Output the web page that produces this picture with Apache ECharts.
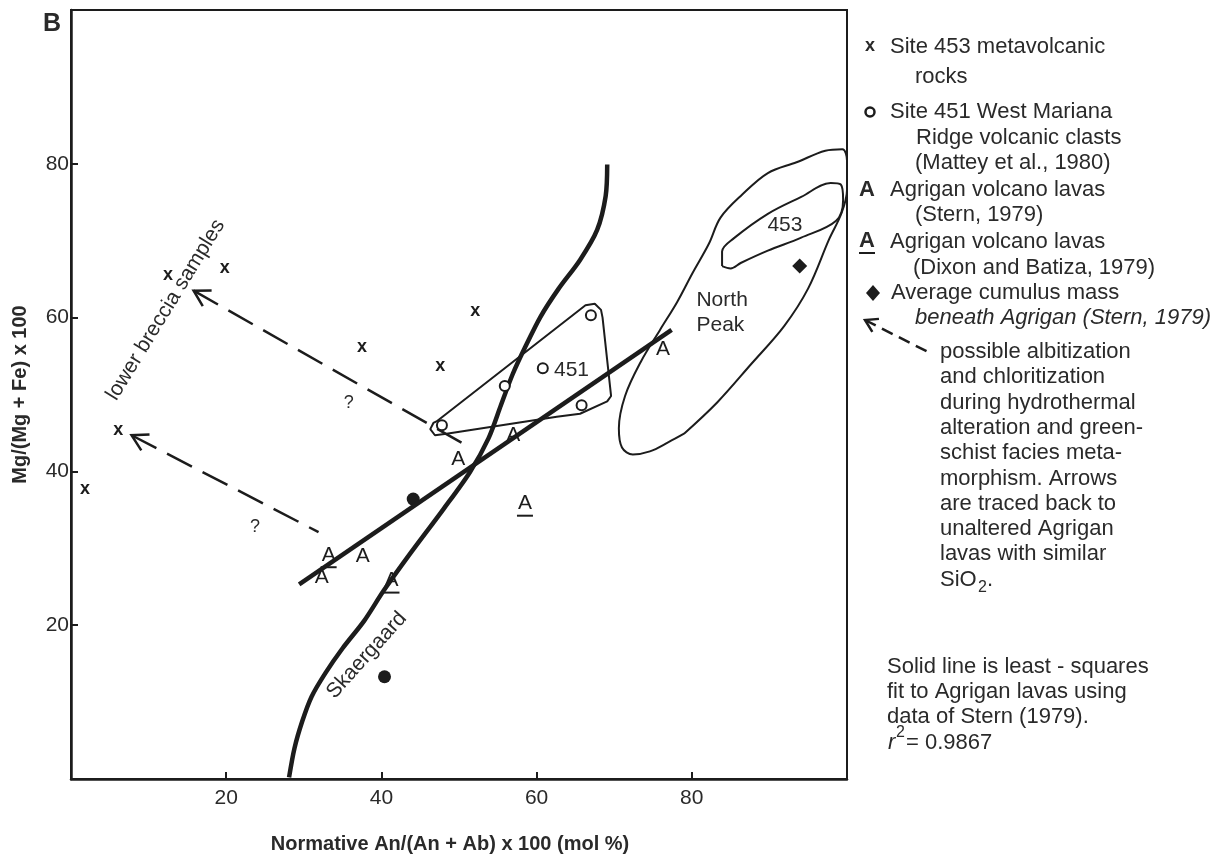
<!DOCTYPE html>
<html><head><meta charset="utf-8">
<script src="https://cdn.jsdelivr.net/npm/echarts@6/dist/echarts.min.js"></script>
<style>html,body{margin:0;padding:0;background:#fff}#c{width:1222px;height:859px}</style>
</head><body><div id="c"></div><script>
// ---- data ----
const xTicks = [20, 40, 60, 80];
const yTicks = [20, 40, 60, 80];
const site453Crosses = [[1.8,37.7],[6.1,45.4],[12.5,65.5],[19.8,66.5],[37.5,56.2],[47.6,53.7],[52.1,60.9]];
const site451Circles = [[67.0,60.3],[60.8,53.4],[55.9,51.1],[65.8,48.6],[47.8,46.0]];
const agriganStern = [[49.9,41.6],[57.0,44.7],[76.3,55.9],[37.6,29.0],[32.3,26.3]];
const agriganDixon = [[58.5,35.8],[33.2,29.1],[41.3,25.8]];
const cumulusDots = [[44.1,36.4],[40.4,13.3]];
const cumulusAverage = [[93.9,66.7]];
const fitLine = [[29.4,25.3],[77.4,58.4]];
const skaergaard = [[28.1,0.2],[28.8,4.0],[29.8,7.5],[31.0,10.7],[32.8,13.8],[35.0,17.0],[37.8,20.6],[40.3,24.5],[43.7,29.3],[48.0,35.1],[51.4,39.9],[53.8,44.3],[55.4,48.6],[56.9,52.6],[58.5,56.1],[60.5,60.1],[62.8,63.7],[65.6,67.5],[67.8,71.4],[68.9,75.8],[69.1,79.9]];
const poly451 = [[47.1,46.5],[66.3,61.6],[67.5,61.8],[68.3,61.0],[68.5,60.0],[69.6,49.8],[69.1,49.1],[65.6,47.5],[62.6,47.1],[48.4,44.9],[46.9,44.7],[46.3,45.5],[46.7,46.3],[47.1,46.5]];
const northPeak = [[79.0,44.9],[83.3,49.0],[87.6,53.9],[91.9,58.9],[95.0,63.8],[97.7,70.2],[99.3,73.6],[100,76.6],[100,80.4],[99.4,81.9],[97.2,81.7],[93.5,80.2],[89.8,78.8],[86.5,76.0],[83.7,73.0],[82.2,69.6],[80.1,65.8],[78.1,62.0],[75.9,58.4],[73.4,54.2],[71.4,49.8],[70.6,45.6],[71.0,43.1],[72.4,42.2],[74.6,42.6],[77.0,43.8],[79.0,44.9]];
const ellipse453 = [[83.9,66.7],[83.9,68.6],[85.4,70.3],[89.8,73.5],[94.1,75.7],[97.9,77.5],[99.2,77.3],[99.5,75.3],[98.6,72.6],[94.1,70.4],[89.8,68.7],[86.3,67.1],[85.0,66.4],[83.9,66.7]];
// dashed arrows: [tailX, tailY, tipX, tipY]
const alterationArrows = [[51.6,43.0,15.8,63.5],[31.9,32.1,7.8,44.7]];
// annotations inside the plot: [x, y, rotationDeg]
const annoTexts = ['451', '453', 'North\nPeak', '?', '?', 'lower breccia samples', 'Skaergaard'];
const annoPos = [[64.5,53.1,0],[92.0,72.0,0],[80.6,60.6,0],[35.8,48.9,0],[23.7,32.8,0],[12.2,61.0,58.5],[38.1,16.1,48]];

// ---- styling ----
const INK = '#1c1c1c';
const TXT = '#2a2a2a';
const FONT = "'Liberation Sans', Arial, sans-serif";

function textMarker(ch, size, weight, underline) {
  return function (params, api) {
    const p = api.coord([api.value(0), api.value(1)]);
    const kids = [{type: 'text', x: p[0], y: p[1], style: {text: ch, fill: INK, font: weight + ' ' + size + 'px ' + FONT, align: 'center', verticalAlign: 'middle'}}];
    if (underline) {
      kids.push({type: 'line', shape: {x1: p[0] - 8, y1: p[1] + 12, x2: p[0] + 8, y2: p[1] + 12}, style: {stroke: INK, lineWidth: 2}});
    }
    return {type: 'group', children: kids};
  };
}

const chart = echarts.init(document.getElementById('c'), null, {renderer: 'canvas'});
const option = {
  animation: false,
  backgroundColor: '#ffffff',
  grid: {left: 71, right: 375, top: 10, bottom: 78, show: true, borderColor: INK, borderWidth: 2, backgroundColor: 'transparent'},
  xAxis: {
    type: 'value', min: 0, max: 100, interval: 20,
    name: 'Normative An/(An + Ab) x 100 (mol %)', nameLocation: 'middle', nameGap: 55,
    nameTextStyle: {color: TXT, fontFamily: FONT, fontSize: 20, fontWeight: 'bold', padding: [0, 18, 0, 0]},
    axisLine: {lineStyle: {color: INK, width: 2.5}},
    axisTick: {inside: true, length: 7, lineStyle: {color: INK, width: 2}, customValues: xTicks},
    axisLabel: {color: TXT, fontFamily: FONT, fontSize: 21, margin: 9, customValues: xTicks},
    splitLine: {show: false}
  },
  yAxis: {
    type: 'value', min: 0, max: 100, interval: 20,
    name: 'Mg/(Mg + Fe) x 100', nameLocation: 'middle', nameGap: 41,
    nameTextStyle: {color: TXT, fontFamily: FONT, fontSize: 20, fontWeight: 'bold'},
    axisLine: {lineStyle: {color: INK, width: 2.5}},
    axisTick: {inside: true, length: 7, lineStyle: {color: INK, width: 2}, customValues: yTicks},
    axisLabel: {color: TXT, fontFamily: FONT, fontSize: 21, margin: 2, customValues: yTicks},
    splitLine: {show: false}
  },
  series: [
    {type: 'line', data: skaergaard, smooth: 0.3, symbol: 'none', lineStyle: {color: INK, width: 4.5}, silent: true},
    {type: 'line', data: fitLine, symbol: 'none', lineStyle: {color: INK, width: 4.5}, silent: true},
    {type: 'line', data: poly451, symbol: 'none', lineStyle: {color: INK, width: 2}, silent: true},
    {type: 'line', data: northPeak, smooth: 0.35, symbol: 'none', lineStyle: {color: INK, width: 2}, silent: true, clip: false},
    {type: 'line', data: ellipse453, smooth: 0.35, symbol: 'none', lineStyle: {color: INK, width: 2}, silent: true, clip: false},
    {type: 'custom', data: alterationArrows, encode: {x: [0, 2], y: [1, 3]}, silent: true,
      renderItem: function (params, api) {
        const a = api.coord([api.value(0), api.value(1)]);
        const b = api.coord([api.value(2), api.value(3)]);
        const ang = Math.atan2(a[1] - b[1], a[0] - b[0]);
        const L = 18, s = 0.52;
        const w1 = [b[0] + L * Math.cos(ang + s), b[1] + L * Math.sin(ang + s)];
        const w2 = [b[0] + L * Math.cos(ang - s), b[1] + L * Math.sin(ang - s)];
        return {type: 'group', children: [
          {type: 'line', shape: {x1: b[0], y1: b[1], x2: a[0], y2: a[1]}, style: {stroke: INK, lineWidth: 2.5, lineDash: [28, 12]}},
          {type: 'polyline', shape: {points: [w1, b, w2]}, style: {stroke: INK, lineWidth: 2.5, fill: null}}
        ]};
      }},
    {type: 'custom', data: site453Crosses, encode: {x: 0, y: 1}, silent: true, renderItem: textMarker('x', 18, 'bold', false)},
    {type: 'custom', data: agriganStern, encode: {x: 0, y: 1}, silent: true, renderItem: textMarker('A', 21, 'normal', false)},
    {type: 'custom', data: agriganDixon, encode: {x: 0, y: 1}, silent: true, renderItem: textMarker('A', 21, 'normal', true)},
    {type: 'scatter', data: site451Circles, symbol: 'circle', symbolSize: 10, z: 5, itemStyle: {color: '#ffffff', borderColor: INK, borderWidth: 2, opacity: 1}, silent: true},
    {type: 'scatter', data: cumulusDots, symbol: 'circle', symbolSize: 13, itemStyle: {color: INK, opacity: 1}, silent: true},
    {type: 'scatter', data: cumulusAverage, symbol: 'diamond', symbolSize: 15, itemStyle: {color: INK, opacity: 1}, silent: true},
    {type: 'custom', data: annoPos, encode: {x: 0, y: 1}, silent: true,
      renderItem: function (params, api) {
        const p = api.coord([api.value(0), api.value(1)]);
        const t = annoTexts[params.dataIndex];
        const isQ = t === '?';
        const left = t.indexOf('North') === 0;
        return {type: 'text', x: p[0], y: p[1], rotation: api.value(2) * Math.PI / 180,
          style: {text: t, fill: TXT, font: (isQ ? '18px ' : '21px ') + FONT, align: left ? 'left' : 'center', verticalAlign: 'middle', lineHeight: 25}};
      }}
  ],
  graphic: []
};

// ---- legend & notes (outside the plot, pixel layout) ----
const g = [];
function txt(x, y, s, opt) {
  opt = opt || {};
  g.push({type: 'text', x: x, y: y, style: {text: s, fill: TXT, font: (opt.style || '') + ' ' + (opt.weight || 'normal') + ' ' + (opt.size || 22) + 'px ' + FONT, align: opt.align || 'left', verticalAlign: 'middle'}});
}
txt(52, 24, 'B', {weight: 'bold', size: 25, align: 'center'});
txt(870, 46, 'x', {size: 18, weight: 'bold', align: 'center'});
txt(890, 47, 'Site 453 metavolcanic');
txt(915, 77, 'rocks');
g.push({type: 'circle', shape: {cx: 870, cy: 112, r: 4.5}, style: {stroke: INK, lineWidth: 2.5, fill: '#fff'}});
txt(890, 112, 'Site 451 West Mariana');
txt(916, 138, 'Ridge volcanic clasts');
txt(915, 163, '(Mattey et al., 1980)');
txt(867, 190, 'A', {weight: 'bold', align: 'center'});
txt(890, 190, 'Agrigan volcano lavas');
txt(915, 215, '(Stern, 1979)');
txt(867, 241, 'A', {weight: 'bold', align: 'center'});
g.push({type: 'line', shape: {x1: 859, y1: 253, x2: 875, y2: 253}, style: {stroke: INK, lineWidth: 2}});
txt(890, 242, 'Agrigan volcano lavas');
txt(913, 268, '(Dixon and Batiza, 1979)');
g.push({type: 'polygon', shape: {points: [[873, 285], [880, 293], [873, 301], [866, 293]]}, style: {fill: INK}});
txt(891, 293, 'Average cumulus mass');
txt(915, 318, 'beneath Agrigan (Stern, 1979)', {style: 'italic'});
// legend arrow
(function () {
  const b = [865, 320], a = [932, 354];
  const ang = Math.atan2(a[1] - b[1], a[0] - b[0]);
  const L = 14, s = 0.55;
  g.push({type: 'line', shape: {x1: b[0], y1: b[1], x2: a[0], y2: a[1]}, style: {stroke: INK, lineWidth: 2.5, lineDash: [12, 7]}});
  g.push({type: 'polyline', shape: {points: [[b[0] + L * Math.cos(ang + s), b[1] + L * Math.sin(ang + s)], b, [b[0] + L * Math.cos(ang - s), b[1] + L * Math.sin(ang - s)]]}, style: {stroke: INK, lineWidth: 2.5, fill: null}});
})();
const noteLines = ['possible albitization', 'and chloritization', 'during hydrothermal', 'alteration and green-', 'schist facies meta-', 'morphism. Arrows', 'are traced back to', 'unaltered Agrigan', 'lavas with similar'];
noteLines.forEach(function (s, i) { txt(940, 352 + i * 25.3, s); });
txt(940, 580, 'SiO');
txt(978, 588, '2', {size: 16});
txt(987, 580, '.');
const fitNote = ['Solid line is least - squares', 'fit to Agrigan lavas using', 'data of Stern (1979).'];
fitNote.forEach(function (s, i) { txt(887, 667 + i * 25, s); });
txt(888, 743, 'r', {style: 'italic'});
txt(896, 733, '2', {size: 16});
txt(906, 743, '= 0.9867');
option.graphic = g;

chart.setOption(option);
</script></body></html>
